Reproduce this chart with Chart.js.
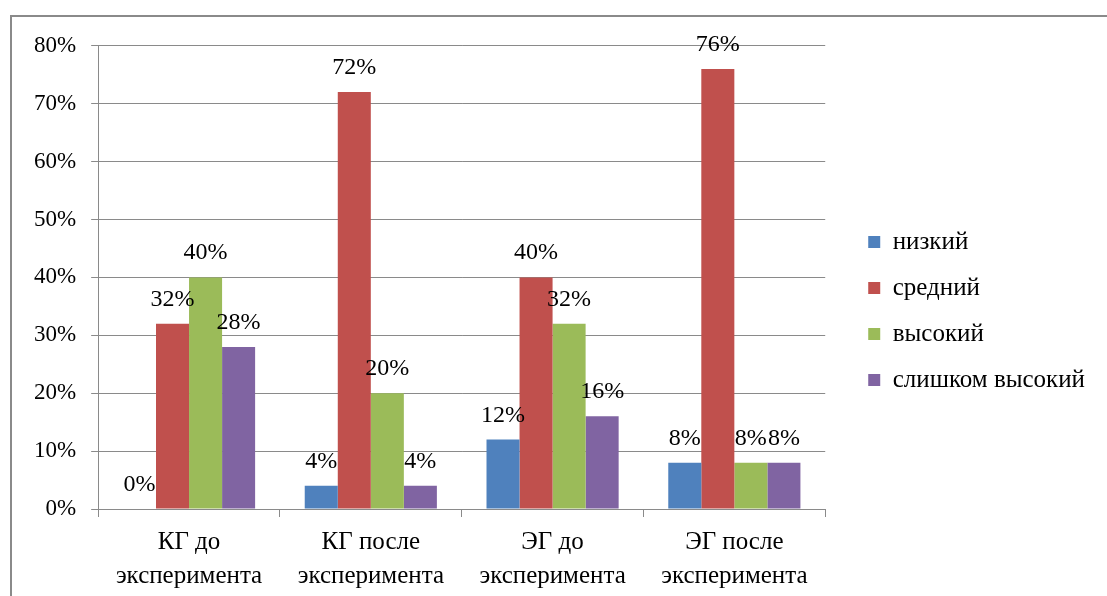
<!DOCTYPE html>
<html>
<head>
<meta charset="utf-8">
<script src="https://cdn.jsdelivr.net/npm/chart.js@4"></script>
<style>
    body { margin: 0; background: #fff; }
    #frame {
        position: absolute;
        left: 10px;
        top: 15px;
        width: 1095px;
        height: 579px;
        border-left: 2px solid #8a8a8a;
        border-top: 2px solid #8a8a8a;
    }
</style>
</head>
<body>
<div id="frame"><canvas id="levelsCanvas" width="1095" height="579"></canvas></div>
<script>
const categories = [
    ['КГ до', 'эксперимента'],
    ['КГ после', 'эксперимента'],
    ['ЭГ до', 'эксперимента'],
    ['ЭГ после', 'эксперимента']
]
const seriesNames = ['низкий', 'средний', 'высокий', 'слишком высокий']
const lowValues = [0, 4, 12, 8]
const midValues = [32, 72, 40, 76]
const highValues = [40, 20, 32, 8]
const tooHighValues = [28, 4, 16, 8]
const yTicks = [0, 10, 20, 30, 40, 50, 60, 70, 80]

const colors = ['#4f81bd', '#c0504d', '#9bbb59', '#8064a2']
const gridColor = '#8a8a8a'

Chart.defaults.font.family = '"Liberation Serif"'
Chart.defaults.color = '#000'

// values over the bars, like the office data labels
const barLabels = {
    id: 'barLabels',
    afterDatasetsDraw(chart) {
        const ctx = chart.ctx
        ctx.save()
        ctx.font = '24px "Liberation Serif"'
        ctx.fillStyle = '#000'
        ctx.textAlign = 'center'
        ctx.textBaseline = 'alphabetic'
        chart.data.datasets.forEach((ds, i) => {
            chart.getDatasetMeta(i).data.forEach((bar, j) => {
                ctx.fillText(ds.data[j] + '%', bar.x, bar.y - 18)
            })
        })
        ctx.restore()
    }
}

const seriesData = [lowValues, midValues, highValues, tooHighValues]

new Chart(document.querySelector('#levelsCanvas'), {
    type: 'bar',
    data: {
        labels: categories,
        datasets: seriesNames.map((name, i) => ({
            label: name,
            data: seriesData[i],
            backgroundColor: colors[i],
            borderWidth: 0,
            categoryPercentage: 0.727,
            barPercentage: 1
        }))
    },
    options: {
        responsive: false,
        animation: false,
        layout: {
            padding: { left: 7, top: 15, right: 12, bottom: 6 }
        },
        plugins: {
            legend: {
                position: 'right',
                maxWidth: 320,
                labels: {
                    boxWidth: 12,
                    boxHeight: 12,
                    padding: 21,
                    font: { size: 25 }
                }
            },
            tooltip: { enabled: false }
        },
        scales: {
            x: {
                afterFit(scale) {
                    scale.height -= 11
                },
                grid: {
                    drawOnChartArea: false,
                    tickLength: 8,
                    color: gridColor
                },
                border: { color: gridColor },
                ticks: {
                    padding: 8,
                    maxRotation: 0,
                    font: { size: 25, lineHeight: 1.36 }
                }
            },
            y: {
                min: 0,
                max: 80,
                afterBuildTicks(scale) {
                    scale.ticks = yTicks.map(v => ({ value: v }))
                },
                grid: {
                    color: gridColor,
                    tickLength: 7
                },
                border: { color: gridColor },
                ticks: {
                    padding: 15,
                    font: { size: 23 },
                    callback: v => v + '%'
                }
            },
            // empty spacer between the plot and the legend
            gap: {
                type: 'linear',
                position: 'right',
                display: true,
                grid: { display: false },
                border: { display: false },
                ticks: { display: false },
                afterFit(scale) {
                    scale.width = 22
                }
            }
        }
    },
    plugins: [barLabels]
})
</script>
</body>
</html>
